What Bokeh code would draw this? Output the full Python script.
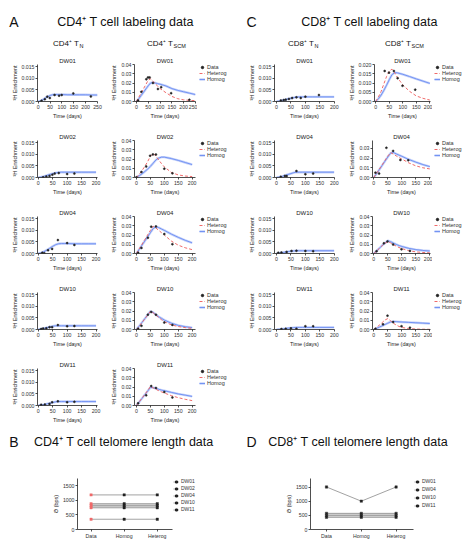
from bokeh.plotting import figure
from bokeh.models import (Range1d, FixedTicker, NumeralTickFormatter, Label, Legend,
                          LegendItem, Spacer)
from bokeh.layouts import column, row
from bokeh.embed import file_html
from bokeh.resources import INLINE

FONT = "Liberation Sans"
BLUE = "#6f8ff2"
RED = "#f06a6a"
INK = "#222222"
NAN = float("nan")   # placeholder so that legend-only renderers draw no mark

# ---------------- data: model time grids ----------------
T = [0, 10, 20, 30, 40, 50, 60, 70, 80, 90, 100, 125, 150, 175, 200]
T_LONG = [0, 10, 20, 30, 40, 50, 60, 70, 80, 90, 100, 125, 150, 175, 200, 225, 250]
X_TICKS_200 = [0, 50, 100, 150, 200]
X_TICKS_250 = [0, 50, 100, 150, 200, 250]

# ---------------- CD4 naive (TN) ----------------
cd4n_dw01_hom = [0, 0.0003, 0.0008, 0.0015, 0.0021, 0.0026, 0.0029, 0.0030, 0.0030, 0.0030,
                 0.0030, 0.0029, 0.0029, 0.0029, 0.0029, 0.0028, 0.0028]
cd4n_dw01_t = [14, 28, 38, 49, 69, 88, 99, 148, 222]
cd4n_dw01_y = [0.0003, 0.0010, 0.0021, 0.0015, 0.0028, 0.0025, 0.0028, 0.0035, 0.0022]
cd4n_dw02_hom = [0, 0.0002, 0.0005, 0.0009, 0.0013, 0.0017, 0.0020, 0.0022, 0.0023, 0.0023,
                 0.0023, 0.0023, 0.0023, 0.0023, 0.0023]
cd4n_dw02_t = [17, 28, 39, 49, 57, 71, 100, 125]
cd4n_dw02_y = [0.0001, 0.0004, 0.0007, 0.0012, 0.0017, 0.0019, 0.0015, 0.0017]
cd4n_dw04_hom = [0, 0.0003, 0.0008, 0.0015, 0.0023, 0.0031, 0.0038, 0.0042, 0.0043, 0.0043,
                 0.0043, 0.0042, 0.0042, 0.0042, 0.0042]
cd4n_dw04_t = [14, 21, 34, 48, 68, 100, 125]
cd4n_dw04_y = [0.0003, 0.0001, 0.0014, 0.0020, 0.0058, 0.0045, 0.0037]
cd4n_dw10_hom = [0, 0.0002, 0.0005, 0.0008, 0.0011, 0.0014, 0.0016, 0.0016, 0.0016, 0.0016,
                 0.0016, 0.0016, 0.0016, 0.0016, 0.0016]
cd4n_dw10_t = [10, 17, 28, 39, 48, 68, 100, 125]
cd4n_dw10_y = [0.0002, 0.0004, 0.0005, 0.0010, 0.0010, 0.0019, 0.0014, 0.0015]
cd4n_dw11_hom = [0, 0.0002, 0.0004, 0.0007, 0.0010, 0.0013, 0.0016, 0.0017, 0.0017, 0.0017,
                 0.0017, 0.0017, 0.0017, 0.0017, 0.0017]
cd4n_dw11_t = [10, 23, 39, 48, 68, 100, 125]
cd4n_dw11_y = [0.0003, 0.0004, 0.0007, 0.0014, 0.0018, 0.0014, 0.0016]

# ---------------- CD4 stem cell memory (TSCM) ----------------
cd4s_dw01_het = [0, 0.0045, 0.009, 0.0138, 0.0183, 0.023, 0.0245, 0.022, 0.019, 0.0167,
                 0.014, 0.0095, 0.0055, 0.003, 0.0018, 0.0012, 0.001]
cd4s_dw01_hom = [0, 0.003, 0.0065, 0.010, 0.0135, 0.017, 0.020, 0.0205, 0.020, 0.0193,
                 0.0187, 0.0168, 0.014, 0.012, 0.0105, 0.009, 0.0075]
cd4s_dw01_t = [7, 21, 42, 49, 56, 70, 91, 105, 147, 224]
cd4s_dw01_y = [0.001, 0.0105, 0.024, 0.026, 0.026, 0.020, 0.0135, 0.0155, 0.009, 0.0018]
cd4s_dw02_het = [0, 0.0035, 0.0075, 0.012, 0.017, 0.023, 0.026, 0.023, 0.019, 0.015,
                 0.0115, 0.0055, 0.0028, 0.0016, 0.0010]
cd4s_dw02_hom = [0, 0.002, 0.004, 0.0065, 0.009, 0.012, 0.0155, 0.019, 0.021, 0.022,
                 0.022, 0.0205, 0.0185, 0.0162, 0.0140]
cd4s_dw02_t = [0, 18, 35, 49, 59, 70, 100, 129]
cd4s_dw02_y = [0.0002, 0.006, 0.012, 0.0235, 0.025, 0.0248, 0.0095, 0.0045]
cd4s_dw04_het = [0, 0.005, 0.010, 0.015, 0.020, 0.025, 0.0295, 0.0275, 0.025, 0.0225,
                 0.020, 0.0135, 0.009, 0.0062, 0.0042]
cd4s_dw04_hom = [0, 0.0045, 0.009, 0.0135, 0.018, 0.0225, 0.027, 0.029, 0.028, 0.0265,
                 0.025, 0.021, 0.0175, 0.0143, 0.0115]
cd4s_dw04_t = [6, 18, 41, 53, 70, 100, 129]
cd4s_dw04_y = [0.0007, 0.006, 0.017, 0.029, 0.0293, 0.021, 0.010]
cd4s_dw10_het = [0, 0.0035, 0.0075, 0.0115, 0.0155, 0.0195, 0.018, 0.0155, 0.013, 0.0105,
                 0.0085, 0.005, 0.0032, 0.002, 0.0012]
cd4s_dw10_hom = [0, 0.0037, 0.0077, 0.0117, 0.0157, 0.0197, 0.0185, 0.016, 0.0138, 0.012,
                 0.0102, 0.0068, 0.0045, 0.003, 0.002]
cd4s_dw10_t = [6, 18, 41, 53, 70, 100, 129]
cd4s_dw10_y = [0.0007, 0.004, 0.016, 0.019, 0.016, 0.0075, 0.005]
cd4s_dw11_het = [0, 0.004, 0.008, 0.012, 0.016, 0.0205, 0.019, 0.0175, 0.016, 0.0147,
                 0.0135, 0.0107, 0.0085, 0.0067, 0.0053]
cd4s_dw11_hom = [0, 0.0038, 0.0077, 0.0115, 0.0155, 0.0195, 0.0193, 0.0185, 0.0175, 0.0167,
                 0.016, 0.0142, 0.0125, 0.0112, 0.0098]
cd4s_dw11_t = [6, 35, 53, 70, 100, 129]
cd4s_dw11_y = [0.0024, 0.011, 0.021, 0.019, 0.0146, 0.0087]

# ---------------- CD8 naive (TN) ----------------
cd8n_dw01_hom = [0, 0.0002, 0.0005, 0.0008, 0.0011, 0.0014, 0.0017, 0.0019, 0.0020, 0.0020,
                 0.0020, 0.0020, 0.0020, 0.0020, 0.0020]
cd8n_dw01_t = [15, 25, 32, 43, 54, 69, 84, 100, 147]
cd8n_dw01_y = [0.0004, 0.0006, 0.0008, 0.0011, 0.0015, 0.0018, 0.0015, 0.0021, 0.0028]
cd8n_dw04_hom = [0, 0.0002, 0.0005, 0.0009, 0.0013, 0.0017, 0.0021, 0.0023, 0.0023, 0.0023,
                 0.0023, 0.0023, 0.0023, 0.0023, 0.0023]
cd8n_dw04_t = [15, 29, 35, 69, 100, 127]
cd8n_dw04_y = [0.0003, 0.0007, 0.0006, 0.0028, 0.0014, 0.0017]
cd8n_dw10_hom = [0, 0.0002, 0.0004, 0.0006, 0.0008, 0.0010, 0.0011, 0.0012, 0.0012, 0.0012,
                 0.0012, 0.0012, 0.0012, 0.0012, 0.0012]
cd8n_dw10_t = [6, 17, 35, 52, 69, 100, 127]
cd8n_dw10_y = [0.0003, 0.0004, 0.0007, 0.0011, 0.0012, 0.0011, 0.0010]
cd8n_dw11_hom = [0, 0.0001, 0.0002, 0.0004, 0.0006, 0.0007, 0.0008, 0.0009, 0.0009, 0.0009,
                 0.0009, 0.0009, 0.0009, 0.0009, 0.0009]
cd8n_dw11_t = [17, 32, 50, 69, 100, 127]
cd8n_dw11_y = [0.0002, 0.0003, 0.0005, 0.0003, 0.0014, 0.0014]

# ---------------- CD8 stem cell memory (TSCM) ----------------
cd8s_dw01_het = [0, 0.0025, 0.0055, 0.0095, 0.0135, 0.0165, 0.0175, 0.0155, 0.013, 0.011,
                 0.009, 0.0055, 0.003, 0.0017, 0.0008]
cd8s_dw01_hom = [0, 0.0015, 0.0035, 0.006, 0.0088, 0.0118, 0.0145, 0.0156, 0.0155, 0.0151,
                 0.0147, 0.0135, 0.0122, 0.011, 0.0098]
cd8s_dw01_t = [33, 49, 67, 81, 99, 146]
cd8s_dw01_y = [0.0165, 0.0156, 0.0165, 0.0126, 0.0085, 0.0064]
cd8s_dw04_het = [0, 0.0043, 0.0087, 0.013, 0.0175, 0.022, 0.0255, 0.024, 0.0222, 0.0205,
                 0.019, 0.015, 0.012, 0.0100, 0.0088]
cd8s_dw04_hom = [0, 0.004, 0.0082, 0.0125, 0.0168, 0.021, 0.025, 0.0257, 0.0243, 0.023,
                 0.0218, 0.0185, 0.0158, 0.0133, 0.0112]
cd8s_dw04_t = [6, 19, 45, 69, 95, 123]
cd8s_dw04_y = [0.005, 0.004, 0.0305, 0.0273, 0.018, 0.0177]
cd8s_dw10_het = [0, 0.0027, 0.0055, 0.0085, 0.011, 0.013, 0.0115, 0.0095, 0.008, 0.0065,
                 0.0053, 0.003, 0.0018, 0.0011, 0.0007]
cd8s_dw10_hom = [0, 0.0028, 0.0057, 0.0087, 0.0113, 0.0138, 0.0128, 0.0112, 0.0098, 0.0086,
                 0.0076, 0.0056, 0.0042, 0.0033, 0.0027]
cd8s_dw10_t = [10, 36, 49, 69, 99, 129]
cd8s_dw10_y = [0.0024, 0.011, 0.013, 0.0097, 0.0045, 0.0028]
cd8s_dw11_het = [0, 0.0022, 0.0048, 0.0075, 0.0103, 0.0118, 0.0095, 0.0068, 0.0048, 0.0033,
                 0.0022, 0.001, 0.0005, 0.0003, 0.0002]
cd8s_dw11_hom = [0, 0.0013, 0.0026, 0.0040, 0.0054, 0.0068, 0.0082, 0.0087, 0.0085, 0.0083,
                 0.0081, 0.0077, 0.0073, 0.0069, 0.0065]
cd8s_dw11_t = [6, 33, 49, 69, 99, 129]
cd8s_dw11_y = [0.0007, 0.0056, 0.015, 0.008, 0.0035, 0.002]

# ---------------- telomere length ----------------
tel_cats = ["Data", "Homog", "Heterog"]
tel_pos = [0, 1, 2]
cd4_tel_names = ["DW01", "DW02", "DW04", "DW10", "DW11"]
cd4_tel_dw01 = [1180, 1180, 1180]
cd4_tel_dw02 = [880, 880, 880]
cd4_tel_dw04 = [810, 810, 810]
cd4_tel_dw10 = [740, 740, 740]
cd4_tel_dw11 = [350, 350, 350]
cd8_tel_names = ["DW01", "DW04", "DW10", "DW11"]
cd8_tel_dw01 = [1500, 1000, 1500]
cd8_tel_dw04 = [570, 570, 570]
cd8_tel_dw10 = [500, 500, 500]
cd8_tel_dw11 = [430, 430, 430]


def style(p, tick_fs="5.2px", label_fs="5.5px"):
    p.grid.visible = False
    for ax in p.axis:
        ax.axis_line_color = INK
        ax.axis_line_width = 0.8
        ax.major_tick_line_color = INK
        ax.major_tick_line_width = 0.8
        ax.major_tick_in = 0
        ax.major_tick_out = 2
        ax.minor_tick_line_color = None
        ax.major_label_text_font = FONT
        ax.major_label_text_font_size = tick_fs
        ax.major_label_text_color = "#333333"
        ax.axis_label_text_font = FONT
        ax.axis_label_text_font_size = label_fs
        ax.axis_label_text_font_style = "normal"
        ax.axis_label_text_color = "#222222"
        ax.major_label_standoff = 1
        ax.axis_label_standoff = 1


def new_fig(width, height, bl, br, bt, bb, xr, yr, title=None):
    return figure(width=width, height=height, min_border_left=bl, min_border_right=br,
                  min_border_top=bt, min_border_bottom=bb,
                  x_range=Range1d(*xr), y_range=Range1d(*yr),
                  toolbar_location=None, tools="", output_backend="svg",
                  outline_line_color=None, background_fill_color="white",
                  border_fill_color="white", title=title)


def text_strip(width, height, bl=0, bt=0):
    f = figure(width=width, height=height, x_range=Range1d(0, width - bl),
               y_range=Range1d(0, height - bt), min_border=0, min_border_left=bl,
               min_border_top=bt, toolbar_location=None, tools="",
               output_backend="svg", outline_line_color=None, x_axis_type=None,
               y_axis_type=None)
    f.grid.visible = False
    return f


def hlabel(fig, x, y, text, size, align="left", baseline="middle"):
    fig.add_layout(Label(x=x, y=y, text=text, text_align=align, text_baseline=baseline,
                         text_font=FONT, text_font_size=size, text_color="#111111"))


def make_legend(fig, items, spacing, fs, gh):
    leg = Legend(items=items, location="top_left", orientation="vertical",
                 padding=0, margin=0, spacing=spacing, glyph_width=6, glyph_height=gh,
                 label_height=gh, label_standoff=2, label_text_font=FONT,
                 label_text_font_size=fs, label_text_color="#333333",
                 border_line_color=None, background_fill_alpha=0)
    fig.add_layout(leg)


def model_legend_fig(width, height, bl, bt):
    # legend keys for the labeling panels (renderers only carry the styles)
    f = text_strip(width, height, bl, bt)
    r_dat = f.scatter([NAN], [NAN], marker="circle", size=2.2, fill_color=INK, line_color=INK)
    r_het = f.line([NAN, NAN], [NAN, NAN], line_color=RED, line_width=1.0, line_dash="3 2")
    r_band = f.line([NAN, NAN], [NAN, NAN], line_color=BLUE, line_width=2.4, line_alpha=0.4)
    r_hom = f.line([NAN, NAN], [NAN, NAN], line_color=BLUE, line_width=1.0, line_alpha=0.95)
    items = [LegendItem(label="Data", renderers=[r_dat]),
             LegendItem(label="Heterog", renderers=[r_het]),
             LegendItem(label="Homog", renderers=[r_band, r_hom])]
    make_legend(f, items, 0, "5.5px", 6)
    return f


def curve_panel(width, bl, br, xr, xticks, yr, yticks, yfmt, title, tm, hom, het, td, yd,
                height=76, bb=30):
    p = new_fig(width, height, bl, br, 8, bb, xr, yr, title=title)
    p.title.text_font = FONT
    p.title.text_font_size = "6px"
    p.title.text_font_style = "normal"
    p.title.text_color = "#222222"
    p.title.align = "center"
    p.title.standoff = 1
    p.title.offset = 0
    style(p)
    p.xaxis.axis_label = "Time (days)"
    p.yaxis.axis_label = "\u00b3H Enrichment"
    p.xaxis.ticker = FixedTicker(ticks=xticks)
    p.yaxis.ticker = FixedTicker(ticks=yticks)
    p.yaxis.formatter = NumeralTickFormatter(format=yfmt)
    p.line(tm, hom, line_color=BLUE, line_width=2.4, line_alpha=0.4)
    p.line(tm, hom, line_color=BLUE, line_width=1.0, line_alpha=0.95)
    if het is not None:
        p.line(tm, het, line_color=RED, line_width=1.0, line_dash="3 2")
    p.scatter(td, yd, marker="circle", size=2.0, fill_color=INK, line_color=INK,
              line_width=0.5)
    return p


# ---------------- header (page y = 55 - label y) ----------------
hdr = text_strip(462, 55)
hlabel(hdr, 13.3, 33.3, "A", "14px", "center")
hlabel(hdr, 125, 33.3, "CD4\u207a T cell labeling data", "12.5px", "center")
hlabel(hdr, 251, 33.3, "C", "14px", "center")
hlabel(hdr, 369, 33.3, "CD8\u207a T cell labeling data", "12.5px", "center")
hlabel(hdr, 52.5, 12, "CD4\u207a T", "8px")
hlabel(hdr, 79.0, 10, "N", "5.5px")
hlabel(hdr, 146.5, 12, "CD4\u207a T", "8px")
hlabel(hdr, 173.0, 10, "SCM", "5.5px")
hlabel(hdr, 287.5, 12, "CD8\u207a T", "8px")
hlabel(hdr, 314.0, 10, "N", "5.5px")
hlabel(hdr, 384.5, 12, "CD8\u207a T", "8px")
hlabel(hdr, 411.0, 10, "SCM", "5.5px")

# ---------------- labeling rows ----------------
cd4_rows = [
    ("DW01", T_LONG, cd4n_dw01_hom, cd4n_dw01_t, cd4n_dw01_y,
     cd4s_dw01_het, cd4s_dw01_hom, cd4s_dw01_t, cd4s_dw01_y, True),
    ("DW02", T, cd4n_dw02_hom, cd4n_dw02_t, cd4n_dw02_y,
     cd4s_dw02_het, cd4s_dw02_hom, cd4s_dw02_t, cd4s_dw02_y, False),
    ("DW04", T, cd4n_dw04_hom, cd4n_dw04_t, cd4n_dw04_y,
     cd4s_dw04_het, cd4s_dw04_hom, cd4s_dw04_t, cd4s_dw04_y, False),
    ("DW10", T, cd4n_dw10_hom, cd4n_dw10_t, cd4n_dw10_y,
     cd4s_dw10_het, cd4s_dw10_hom, cd4s_dw10_t, cd4s_dw10_y, False),
    ("DW11", T, cd4n_dw11_hom, cd4n_dw11_t, cd4n_dw11_y,
     cd4s_dw11_het, cd4s_dw11_hom, cd4s_dw11_t, cd4s_dw11_y, False),
]
cd8_rows = [
    ("DW01", cd8n_dw01_hom, cd8n_dw01_t, cd8n_dw01_y, cd8s_dw01_het, cd8s_dw01_hom,
     cd8s_dw01_t, cd8s_dw01_y, 0.020, [0, 0.005, 0.010, 0.015, 0.020], "0.000"),
    ("DW04", cd8n_dw04_hom, cd8n_dw04_t, cd8n_dw04_y, cd8s_dw04_het, cd8s_dw04_hom,
     cd8s_dw04_t, cd8s_dw04_y, 0.038, [0, 0.01, 0.02, 0.03], "0.00"),
    ("DW10", cd8n_dw10_hom, cd8n_dw10_t, cd8n_dw10_y, cd8s_dw10_het, cd8s_dw10_hom,
     cd8s_dw10_t, cd8s_dw10_y, 0.04, [0, 0.01, 0.02, 0.03, 0.04], "0.00"),
    ("DW11", cd8n_dw11_hom, cd8n_dw11_t, cd8n_dw11_y, cd8s_dw11_het, cd8s_dw11_hom,
     cd8s_dw11_t, cd8s_dw11_y, 0.04, [0, 0.01, 0.02, 0.03, 0.04], "0.00"),
]
NAIVE_TICKS = [0, 0.005, 0.010, 0.015]

rows = []
for i in range(5):
    h = 76 if i < 4 else 74
    bb = 30 if i < 4 else 28
    name, tm, nh, nt, ny, sh_, shom, st, sy, long_ = cd4_rows[i]
    if long_:
        xr_l, xr_r, xt = (-3, 250), (-8, 250), X_TICKS_250
    else:
        xr_l, xr_r, xt = (-2.5, 205), (-7, 212), X_TICKS_200
    a1 = curve_panel(108, 37, 11, xr_l, xt, (0, 0.016), NAIVE_TICKS, "0.000", name,
                     tm, nh, None, nt, ny, height=h, bb=bb)
    a2 = curve_panel(89, 25, 2, xr_r, xt, (0, 0.04), [0, 0.01, 0.02, 0.03, 0.04], "0.00",
                     name, tm, shom, sh_, st, sy, height=h, bb=bb)
    a3 = model_legend_fig(43, h, 2, 9)
    items = [a1, a2, a3]
    if i < 4:
        (n8, n8h, n8t, n8y, s8het, s8hom, s8t, s8y, ymax, yt, yf) = cd8_rows[i]
        c1 = curve_panel(105, 34, 11, (-7, 201), X_TICKS_200, (0, 0.016), NAIVE_TICKS,
                         "0.000", n8, T, n8h, None, n8t, n8y, height=h, bb=bb)
        c2 = curve_panel(87, 27, 2, (-4.6, 202.5), X_TICKS_200, (0, ymax), yt, yf, n8,
                         T, s8hom, s8het, s8t, s8y, height=h, bb=bb)
        c3 = model_legend_fig(30, h, 2, 9)
        items += [c1, c2, c3]
    else:
        items.append(Spacer(width=222, height=h))
    rows.append(row(*items))

# ---------------- telomere header (page y = 450 - label y) ----------------
thdr = text_strip(462, 17)
hlabel(thdr, 13.3, 8.3, "B", "14px", "center")
hlabel(thdr, 123.3, 8.3, "CD4\u207a T cell telomere length data", "12.5px", "center")
hlabel(thdr, 251, 8.3, "D", "14px", "center")
hlabel(thdr, 357.7, 8.3, "CD8\u207a T cell telomere length data", "12.5px", "center")


def tel_panel(width, bl, br, bt, xr, ymax, series, data_color):
    p = new_fig(width, 91, bl, br, bt, 11, xr, (0, ymax))
    style(p, tick_fs="5.2px")
    p.xaxis.ticker = FixedTicker(ticks=tel_pos)
    p.xaxis.major_label_overrides = {k: c for k, c in zip(tel_pos, tel_cats)}
    p.yaxis.ticker = FixedTicker(ticks=[0, 500, 1000, 1500])
    p.yaxis.axis_label = "\u0398 (bps)"
    mids = series[1:-1] if len(series) > 4 else series[1:]
    lo = [min(v[k] for v in mids) for k in range(3)]
    hi = [max(v[k] for v in mids) for k in range(3)]
    p.varea(x=tel_pos, y1=lo, y2=hi, fill_color="#d6d6d6", fill_alpha=1)
    for vals in series:
        p.line(tel_pos, vals, line_color="#8a8a8a", line_width=0.8)
        p.scatter(tel_pos[1:], vals[1:], marker="square", size=2.4, fill_color=INK,
                  line_color=INK, line_width=0.4)
        p.scatter(tel_pos[:1], vals[:1], marker="square", size=2.4, fill_color=data_color,
                  line_color=data_color, line_width=0.4)
    return p


def tel_legend_fig(width, names, bt, spacing):
    f = text_strip(width, 91, 0, bt)
    items = []
    for nm in names:
        rl = f.line([NAN, NAN], [NAN, NAN], line_color="#8a8a8a", line_width=0.8)
        rm = f.scatter([NAN], [NAN], marker="square", size=2.0, fill_color=INK,
                       line_color=INK)
        items.append(LegendItem(label=nm, renderers=[rl, rm]))
    make_legend(f, items, spacing, "5px", 5)
    return f


b = tel_panel(173, 77, 1, 19, (-0.41, 2.46), 1740,
              [cd4_tel_dw01, cd4_tel_dw02, cd4_tel_dw04, cd4_tel_dw10, cd4_tel_dw11], RED)
b_leg = tel_legend_fig(67, cd4_tel_names, 28, 1)
d = tel_panel(174, 70, 1, 12, (-0.46, 2.5), 1800,
              [cd8_tel_dw01, cd8_tel_dw04, cd8_tel_dw10, cd8_tel_dw11], INK)
d_leg = tel_legend_fig(48, cd8_tel_names, 19, 2)

layout = column(hdr, *rows, thdr, row(b, b_leg, d, d_leg))
open("out.html", "w").write(file_html(layout, INLINE))
